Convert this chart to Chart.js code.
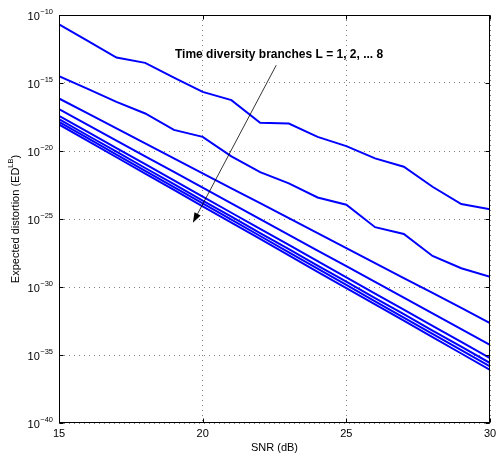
<!DOCTYPE html>
<html>
<head>
<meta charset="utf-8">
<script src="https://cdn.jsdelivr.net/npm/chart.js@4.4.0/dist/chart.umd.min.js"></script>
<style>
  html, body { margin: 0; padding: 0; background: #fff; }
  canvas { display: block; }
</style>
</head>
<body>
<canvas id="chart" width="496" height="457"></canvas>
<script>
const snr = [15, 16, 17, 18, 19, 20, 21, 22, 23, 24, 25, 26, 27, 28, 29, 30];

// expected distortion, one array per number of diversity branches L
const distL1 = [2.09e-11, 1.26e-12, 7.41e-14, 3.02e-14, 2.51e-15, 2.24e-16, 5.5e-17, 1.17e-18,
                1.05e-18, 1.1e-19, 2.29e-20, 2.88e-21, 6.92e-22, 2.34e-23, 1.26e-24, 5.13e-25];
const distL2 = [3.16e-15, 3.72e-16, 4.07e-17, 5.75e-18, 3.55e-19, 1.1e-19, 3.98e-21, 2.82e-22,
                4.17e-23, 3.8e-24, 1.12e-24, 2.51e-26, 7.94e-27, 1.91e-28, 2.4e-29, 5.75e-30];
const distL3 = [7.24e-17, 5.75e-18, 4.57e-19, 3.63e-20, 2.88e-21, 2.29e-22, 1.82e-23, 1.45e-24,
                1.15e-25, 9.12e-27, 7.24e-28, 5.75e-29, 4.57e-30, 3.63e-31, 2.88e-32, 2.19e-33];
const distL4 = [1.2e-17, 8.32e-19, 5.89e-20, 4.07e-21, 2.88e-22, 2.0e-23, 1.41e-24, 9.77e-26,
                6.92e-27, 4.79e-28, 3.39e-29, 2.34e-30, 1.66e-31, 1.15e-32, 8.13e-34, 5.62e-35];
const distL5 = [3.89e-18, 2.51e-19, 1.62e-20, 1.07e-21, 6.92e-23, 4.47e-24, 2.88e-25, 1.86e-26,
                1.23e-27, 7.94e-29, 5.13e-30, 3.31e-31, 2.14e-32, 1.41e-33, 9.12e-35, 5.89e-36];
const distL6 = [2.19e-18, 1.38e-19, 8.91e-21, 5.62e-22, 3.63e-23, 2.29e-24, 1.48e-25, 9.33e-27,
                6.03e-28, 3.8e-29, 2.45e-30, 1.55e-31, 1.0e-32, 6.31e-34, 4.07e-35, 2.57e-36];
const distL7 = [1.38e-18, 8.71e-20, 5.5e-21, 3.47e-22, 2.19e-23, 1.41e-24, 8.91e-26, 5.62e-27,
                3.55e-28, 2.24e-29, 1.41e-30, 8.91e-32, 5.62e-33, 3.63e-34, 2.29e-35, 1.45e-36];
const distL8 = [8.91e-19, 5.62e-20, 3.47e-21, 2.19e-22, 1.38e-23, 8.51e-25, 5.37e-26, 3.39e-27,
                2.14e-28, 1.32e-29, 8.32e-31, 5.25e-32, 3.31e-33, 2.04e-34, 1.29e-35, 8.13e-37];

const xTicks = [15, 20, 25, 30];
const yTickExps = [-40, -35, -30, -25, -20, -15, -10];

const annotationText = 'Time diversity branches L = 1, 2, ... 8';
const annotationAt = { x: 22.66, y: 1.2e-13 };
const arrowFrom = { x: 22.56, y: 2.04e-14 };
const arrowTo = { x: 19.66, y: 5.37e-26 };

const FONT = '"Liberation Sans", Arial, Helvetica, sans-serif';

const series = [distL1, distL2, distL3, distL4, distL5, distL6, distL7, distL8];

const matlabAxes = {
    id: 'matlabAxes',
    afterDraw(chart) {
        const ctx = chart.ctx;
        const { left, right, top, bottom } = chart.chartArea;
        const xs = chart.scales.x;
        const ys = chart.scales.y;
        const L = left + 0.5, R = right - 0.5, T = top + 0.5, B = bottom - 0.5;

        ctx.save();
        ctx.strokeStyle = '#000';
        ctx.lineWidth = 1;
        ctx.strokeRect(L, T, R - L, B - T);

        // inward ticks
        ctx.beginPath();
        yTickExps.forEach(e => {
            const y = Math.round(ys.getPixelForValue(Math.pow(10, e))) + 0.5;
            ctx.moveTo(L, y); ctx.lineTo(L + 4, y);
            ctx.moveTo(R, y); ctx.lineTo(R - 4, y);
        });
        xTicks.forEach(v => {
            const x = Math.round(xs.getPixelForValue(v)) + 0.5;
            ctx.moveTo(x, B); ctx.lineTo(x, B - 4);
            ctx.moveTo(x, T); ctx.lineTo(x, T + 4);
        });
        ctx.stroke();

        ctx.fillStyle = '#000';
        ctx.textBaseline = 'middle';

        // x tick labels
        ctx.font = '11px ' + FONT;
        ctx.textAlign = 'center';
        xTicks.forEach(v => {
            ctx.fillText(String(v), xs.getPixelForValue(v), bottom + 11);
        });

        // y tick labels 10^e
        yTickExps.forEach(e => {
            const y = ys.getPixelForValue(Math.pow(10, e));
            const expStr = '\u2212' + Math.abs(e);
            ctx.font = '7.5px ' + FONT;
            ctx.textAlign = 'right';
            const ew = ctx.measureText(expStr).width;
            ctx.fillText(expStr, left - 6, y - 3);
            ctx.font = '11px ' + FONT;
            ctx.fillText('10', left - 6 - ew - 0.5, y + 2);
        });

        // axis titles
        ctx.font = '11px ' + FONT;
        ctx.textAlign = 'center';
        ctx.fillText('SNR (dB)', (left + right) / 2, 448);

        ctx.save();
        ctx.translate(16, (top + bottom) / 2);
        ctx.rotate(-Math.PI / 2);
        ctx.textAlign = 'left';
        ctx.font = '11px ' + FONT;
        const p1 = 'Expected distortion (ED', p3 = ')';
        const w1 = ctx.measureText(p1).width, w3 = ctx.measureText(p3).width;
        ctx.font = '7.5px ' + FONT;
        const w2 = ctx.measureText('LB').width;
        let x0 = -(w1 + w2 + w3) / 2;
        ctx.font = '11px ' + FONT;
        ctx.fillText(p1, x0, 0);
        ctx.font = '7.5px ' + FONT;
        ctx.fillText('LB', x0 + w1, -5);
        ctx.font = '11px ' + FONT;
        ctx.fillText(p3, x0 + w1 + w2, 0);
        ctx.restore();

        // annotation
        ctx.font = 'bold 12px ' + FONT;
        ctx.textAlign = 'center';
        ctx.fillText(annotationText, xs.getPixelForValue(annotationAt.x), ys.getPixelForValue(annotationAt.y));

        const x1 = xs.getPixelForValue(arrowFrom.x), y1 = ys.getPixelForValue(arrowFrom.y);
        const x2 = xs.getPixelForValue(arrowTo.x), y2 = ys.getPixelForValue(arrowTo.y);
        const ang = Math.atan2(y2 - y1, x2 - x1);
        const hl = 10, hw = 3.5;
        const bx = x2 - hl * Math.cos(ang), by = y2 - hl * Math.sin(ang);
        ctx.lineWidth = 0.8;
        ctx.beginPath();
        ctx.moveTo(x1, y1);
        ctx.lineTo(bx, by);
        ctx.stroke();
        ctx.beginPath();
        ctx.moveTo(x2, y2);
        ctx.lineTo(bx + hw * Math.sin(ang), by - hw * Math.cos(ang));
        ctx.lineTo(bx - hw * Math.sin(ang), by + hw * Math.cos(ang));
        ctx.closePath();
        ctx.fill();

        ctx.restore();
    }
};

new Chart(document.getElementById('chart'), {
    type: 'line',
    data: {
        datasets: series.map((vals, i) => ({
            label: 'L = ' + (i + 1),
            data: snr.map((s, j) => ({ x: s, y: vals[j] })),
            borderColor: '#0000ff',
            backgroundColor: '#0000ff',
            borderWidth: 2,
            pointRadius: 0,
            fill: false,
            tension: 0,
        })),
    },
    options: {
        responsive: false,
        animation: false,
        devicePixelRatio: 1,
        layout: { padding: { top: 15, right: 6, left: 0, bottom: 0 } },
        plugins: {
            legend: { display: false },
            tooltip: { enabled: false },
        },
        scales: {
            x: {
                type: 'linear',
                min: 15,
                max: 30,
                afterBuildTicks: s => { s.ticks = xTicks.map(v => ({ value: v })); },
                afterFit: s => { s.height = 34; },
                ticks: { display: false },
                grid: { color: 'rgba(0,0,0,0.5)', lineWidth: 1, drawTicks: false },
                border: { display: false, dash: [1, 4] },
            },
            y: {
                type: 'logarithmic',
                min: 1e-40,
                max: 1e-10,
                afterBuildTicks: s => { s.ticks = yTickExps.map(e => ({ value: Math.pow(10, e) })); },
                afterFit: s => { s.width = 59; },
                ticks: { display: false },
                grid: { color: 'rgba(0,0,0,0.5)', lineWidth: 1, drawTicks: false },
                border: { display: false, dash: [1, 4] },
            },
        },
    },
    plugins: [matlabAxes],
});
</script>
</body>
</html>
